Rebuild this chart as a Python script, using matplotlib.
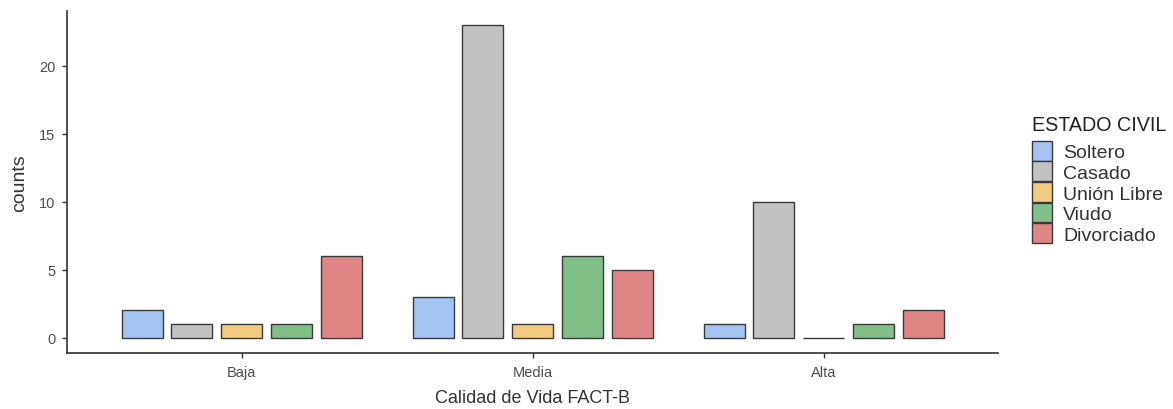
import matplotlib
matplotlib.use("Agg")
import matplotlib.pyplot as plt
from matplotlib.patches import Patch
import numpy as np

plt.rcParams['font.family'] = ['Liberation Sans', 'DejaVu Sans']

# data
calidad = ["Baja", "Media", "Alta"]
estado = ["Soltero", "Casado", "Unión Libre", "Viudo", "Divorciado"]
soltero = [2, 3, 1]
casado = [1, 23, 10]
union_libre = [1, 1, 0]
viudo = [1, 6, 1]
divorciado = [6, 5, 2]
colores = ["#a3c4f3", "#c2c2c2", "#f3cb80", "#82c08a", "#e08585"]

series = [soltero, casado, union_libre, viudo, divorciado]

fig = plt.figure(figsize=(11.73, 4.10), dpi=100)
ax = fig.add_axes([0.0571, 0.1366, 0.851 - 0.0571, 0.9707 - 0.1366])

x = np.arange(len(calidad))
step = 0.171
width = 0.141
for i, (vals, col) in enumerate(zip(series, colores)):
    off = (i - 2) * step
    ax.bar(x + off, vals, width=width, color=col, edgecolor="#3a3a3a",
           linewidth=1.0, label=estado[i])

ax.set_xlim(-0.6, 2.6)
ax.set_ylim(-1.14, 24.05)
ax.set_xticks(x)
ax.set_xticklabels(calidad)
ax.set_yticks([0, 5, 10, 15, 20])
ax.tick_params(axis="both", colors="#333333", labelcolor="#4d4d4d",
               labelsize=10.5, length=3.5, width=1, pad=5)
for s in ["top", "right"]:
    ax.spines[s].set_visible(False)
for s in ["left", "bottom"]:
    ax.spines[s].set_color("#333333")
    ax.spines[s].set_linewidth(1.2)

ax.set_xlabel("Calidad de Vida FACT-B", fontsize=13, color="#333333", labelpad=7)
ax.set_ylabel("counts", fontsize=14, color="#333333", labelpad=8)

handles = [Patch(facecolor=c, edgecolor="#3a3a3a", linewidth=1.0) for c in colores]
leg = fig.legend(handles, estado, title="ESTADO CIVIL", loc="upper left",
                 bbox_to_anchor=(1032 / 1173, 1 - 116 / 410), frameon=False,
                 fontsize=14, title_fontsize=14.2, handlelength=1.05,
                 handleheight=1.2, labelspacing=0.0, handletextpad=0.55,
                 borderaxespad=0, borderpad=0)
leg._legend_box.align = "left"
leg._legend_box.sep = 5  # gap between title and keys
for t in leg.get_texts():
    t.set_color("#333333")
leg.get_title().set_color("#222222")

fig.savefig("out.png", dpi=100)
